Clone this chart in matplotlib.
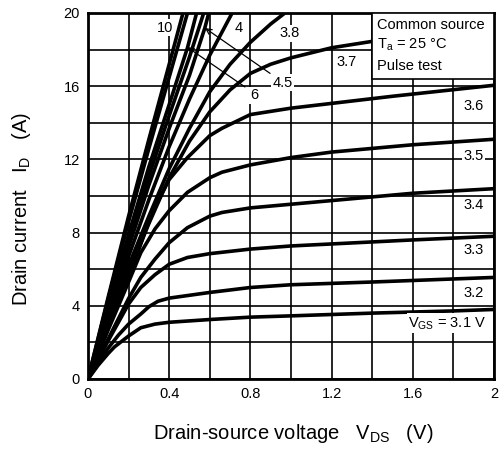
import matplotlib
matplotlib.use("Agg")
import matplotlib.pyplot as plt
from matplotlib.patches import Rectangle

plt.rcParams['font.family'] = ['Liberation Sans', 'DejaVu Sans']
plt.rcParams['mathtext.fontset'] = 'custom'
plt.rcParams['mathtext.rm'] = 'Liberation Sans'

# drain current curves, VGS -> (VDS list, ID list)
vgs_10 = ([0, 0.1, 0.2, 0.3, 0.4, 0.468], [0, 4.5, 8.9, 13.1, 17.2, 20.0])
vgs_8 = ([0, 0.1, 0.2, 0.3, 0.4, 0.49], [0, 4.4, 8.6, 12.6, 16.5, 20.0])
vgs_6 = ([0, 0.1, 0.2, 0.3, 0.4, 0.49, 0.535], [0, 4.0, 7.9, 11.6, 15.0, 18.1, 20.0])
vgs_5 = ([0, 0.1, 0.2, 0.3, 0.4, 0.5, 0.57], [0, 3.9, 7.6, 11.1, 14.4, 17.6, 20.0])
vgs_45 = ([0, 0.1, 0.2, 0.3, 0.4, 0.5, 0.576, 0.595], [0, 3.7, 7.2, 10.6, 13.7, 16.6, 19.2, 20.0])
vgs_4 = ([0, 0.1, 0.2, 0.3, 0.4, 0.5, 0.6, 0.71], [0, 3.4, 6.7, 9.8, 12.7, 15.3, 17.7, 20.0])
vgs_38 = ([0, 0.1, 0.2, 0.3, 0.4, 0.5, 0.6, 0.7, 0.8, 0.9, 0.97],
          [0, 3.2, 6.2, 8.9, 11.5, 13.7, 15.7, 17.2, 18.4, 19.4, 20.0])
vgs_37 = ([0, 0.1, 0.2, 0.3, 0.4, 0.5, 0.6, 0.7, 0.8, 0.9, 1.0, 1.2, 1.4, 1.7, 2.0],
          [0, 3.0, 5.8, 8.5, 11.0, 13.0, 14.6, 15.8, 16.7, 17.2, 17.55, 18.1, 18.45, 18.8, 19.1])
vgs_36 = ([0, 0.1, 0.2, 0.28, 0.33, 0.4, 0.49, 0.6, 0.66, 0.8, 1.0, 1.5, 2.0],
          [0, 2.8, 5.5, 8.0, 9.4, 10.9, 12.1, 13.3, 13.7, 14.45, 14.8, 15.45, 16.05])
vgs_35 = ([0, 0.1, 0.2, 0.26, 0.33, 0.4, 0.49, 0.6, 0.66, 0.8, 1.0, 1.2, 1.6, 2.0],
          [0, 2.7, 5.3, 6.9, 8.2, 9.2, 10.2, 11.0, 11.3, 11.7, 12.1, 12.4, 12.8, 13.1])
vgs_34 = ([0, 0.1, 0.2, 0.26, 0.33, 0.4, 0.49, 0.6, 0.66, 0.8, 1.0, 1.6, 2.0],
          [0, 2.2, 4.4, 5.55, 6.55, 7.45, 8.27, 8.9, 9.1, 9.35, 9.55, 10.15, 10.4])
vgs_33 = ([0, 0.1, 0.2, 0.26, 0.33, 0.4, 0.49, 0.6, 0.8, 1.0, 1.6, 2.0],
          [0, 2.1, 4.1, 5.0, 5.7, 6.27, 6.64, 6.85, 7.1, 7.27, 7.6, 7.8])
vgs_32 = ([0, 0.05, 0.1, 0.15, 0.2, 0.26, 0.3, 0.345, 0.4, 0.6, 0.8, 1.0, 1.4, 2.0],
          [0, 0.85, 1.7, 2.4, 3.0, 3.55, 3.95, 4.25, 4.42, 4.73, 5.0, 5.15, 5.3, 5.55])
vgs_31 = ([0, 0.05, 0.1, 0.13, 0.2, 0.26, 0.33, 0.4, 0.6, 0.8, 1.0, 1.4, 1.8, 2.0],
          [0, 0.75, 1.4, 1.75, 2.35, 2.8, 3.0, 3.1, 3.25, 3.38, 3.45, 3.6, 3.72, 3.8])

curves = [vgs_10, vgs_8, vgs_6, vgs_5, vgs_45, vgs_4, vgs_38, vgs_37,
          vgs_36, vgs_35, vgs_34, vgs_33, vgs_32, vgs_31]

x_ticks = [0, 0.4, 0.8, 1.2, 1.6, 2.0]
x_ticklabels = ["0", "0.4", "0.8", "1.2", "1.6", "2"]
y_ticks = [0, 4, 8, 12, 16, 20]

fig = plt.figure(figsize=(5.04, 4.5), dpi=100)
ax = fig.add_axes([88 / 504, 71 / 450, 406 / 504, 366 / 450])

ax.set_xlim(0, 2)
ax.set_ylim(0, 20)
ax.set_xticks(x_ticks)
ax.set_xticklabels(x_ticklabels)
ax.set_yticks(y_ticks)
ax.set_xticks([0.2, 0.6, 1.0, 1.4, 1.8], minor=True)
ax.set_yticks([2, 6, 10, 14, 18], minor=True)
ax.grid(which='both', color='black', lw=1.2)
ax.tick_params(which='both', length=0, labelsize=10.5, pad=6)
for s in ax.spines.values():
    s.set_linewidth(2)
ax.set_axisbelow(True)

for vx, vy in curves:
    ax.plot(vx, vy, color='black', lw=2.6, solid_capstyle='round', zorder=3)

fs = 10.5
lbl = dict(fontsize=fs, ha='center', va='center', zorder=5,
           bbox=dict(facecolor='white', edgecolor='none', pad=1))
ax.text(0.38, 19.2, "10", **lbl)
ax.text(0.74, 19.2, "4", **lbl)
ax.text(0.995, 18.9, "3.8", **lbl)
ax.text(1.275, 17.3, "3.7", **lbl)
ax.text(0.96, 16.2, "4.5", **lbl)
ax.text(0.82, 15.5, "6", **lbl)
ax.text(1.90, 14.9, "3.6", **lbl)
ax.text(1.90, 12.2, "3.5", **lbl)
ax.text(1.90, 9.5, "3.4", **lbl)
ax.text(1.90, 7.05, "3.3", **lbl)
ax.text(1.90, 4.7, "3.2", **lbl)
ax.text(1.96, 3.05, r"V$_{\mathrm{GS}}$ = 3.1 V", fontsize=fs, ha='right', va='center', zorder=5,
        bbox=dict(facecolor='white', edgecolor='none', pad=1))

arrow = dict(arrowstyle='->', color='black', lw=0.9, shrinkA=0, shrinkB=0)
ax.annotate("", xy=(0.576, 19.18), xytext=(0.897, 16.7), arrowprops=arrow, zorder=4)
ax.annotate("", xy=(0.488, 18.14), xytext=(0.773, 15.96), arrowprops=arrow, zorder=4)

ax.add_patch(Rectangle((1.40, 16.4), 0.6, 3.6, facecolor='white', edgecolor='black',
                       lw=1.2, zorder=6))
ax.text(1.425, 19.35, "Common source", fontsize=fs, va='center', zorder=7)
ax.text(1.425, 18.25, r"T$_{\mathrm{a}}$ = 25 °C", fontsize=fs, va='center', zorder=7)
ax.text(1.425, 17.1, "Pulse test", fontsize=fs, va='center', zorder=7)

ax.set_xlabel(r"Drain-source voltage   V$_{\mathrm{DS}}$   (V)", fontsize=14.5)
ax.set_ylabel(r"Drain current   I$_{\mathrm{D}}$   (A)", fontsize=14.5)
ax.xaxis.set_label_coords(0.505, -0.118)
ax.yaxis.set_label_coords(-0.135, 0.464)

fig.savefig("out.png", dpi=100)
